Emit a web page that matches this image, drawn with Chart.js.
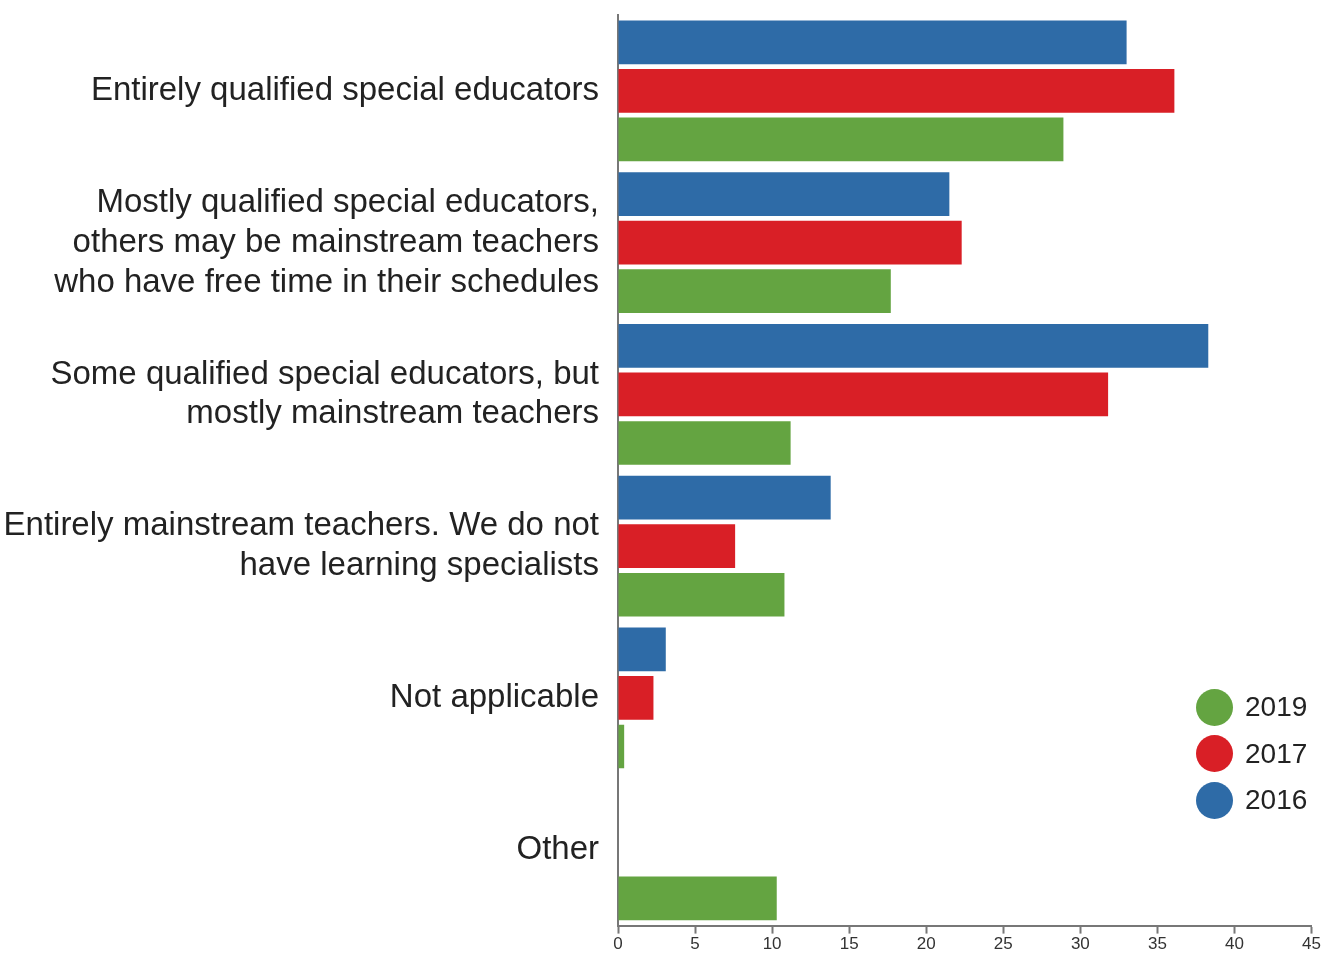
<!DOCTYPE html>
<html>
<head>
<meta charset="utf-8">
<script src="https://cdn.jsdelivr.net/npm/chart.js@4.4.1/dist/chart.umd.min.js"></script>
<style>
  html, body { margin: 0; padding: 0; background: #fff; }
  #wrap { position: relative; width: 1322px; height: 956px; }
  #legend { position: absolute; left: 1196px; top: 684px; font-family: "Liberation Sans", Arial, sans-serif; font-size: 28px; color: #222; }
  #legend div { display: flex; align-items: center; height: 46.5px; }
  #legend span.dot { display: inline-block; width: 37px; height: 37px; border-radius: 50%; margin-right: 12px; }
</style>
</head>
<body>
<div id="wrap">
  <canvas id="barChart"></canvas>
  <div id="legend"></div>
</div>
<script>
const categories = [
  ["Entirely qualified special educators"],
  ["Mostly qualified special educators,", "others may be mainstream teachers", "who have free time in their schedules"],
  ["Some qualified special educators, but", "mostly mainstream teachers"],
  ["Entirely mainstream teachers. We do not", "have learning specialists"],
  ["Not applicable"],
  ["Other"],
];
const values2016 = [33.0, 21.5, 38.3, 13.8, 3.1, null];
const values2017 = [36.1, 22.3, 31.8, 7.6, 2.3, null];
const values2019 = [28.9, 17.7, 11.2, 10.8, 0.4, 10.3];
const xTicks = [0, 5, 10, 15, 20, 25, 30, 35, 40, 45];

const blue = "#2e6ba7";
const red = "#d91f26";
const green = "#64a441";

const datasets = [
  { label: "2016", data: values2016, backgroundColor: blue },
  { label: "2017", data: values2017, backgroundColor: red },
  { label: "2019", data: values2019, backgroundColor: green },
];
datasets.forEach((d) => {
  d.barPercentage = 0.9;
  d.categoryPercentage = 0.96;
});

const ctx = document.getElementById("barChart");
new Chart(ctx, {
  type: "bar",
  data: { labels: categories, datasets: datasets },
  options: {
    indexAxis: "y",
    responsive: true,
    maintainAspectRatio: false,
    animation: false,
    layout: { padding: { top: 15, right: 8, left: 0, bottom: 0 } },
    scales: {
      x: {
        min: 0,
        max: 45,
        afterBuildTicks: (scale) => {
          scale.ticks = xTicks.map((v) => ({ value: v }));
        },
        grid: { drawOnChartArea: false, drawTicks: true, tickLength: 8, tickColor: "#777", tickWidth: 2 },
        border: { display: true, color: "#777", width: 2 },
        ticks: {
          color: "#333",
          padding: 1,
          font: { family: "Liberation Sans", size: 17 },
          maxRotation: 0,
        },
      },
      y: {
        afterFit: (scale) => {
          scale.width = 618;
          scale.paddingTop = 0;
          scale.paddingBottom = 0;
        },
        grid: { display: false },
        border: { display: true, color: "#777", width: 2 },
        ticks: {
          color: "#222",
          padding: 11,
          font: { family: "Liberation Sans", size: 33, lineHeight: 1.21 },
        },
      },
    },
    plugins: {
      legend: { display: false },
      tooltip: { enabled: false },
    },
  },
});

// legend in reverse order, like the original
const legend = document.getElementById("legend");
datasets.slice().reverse().forEach((d) => {
  const row = document.createElement("div");
  row.innerHTML = '<span class="dot" style="background:' + d.backgroundColor + '"></span>' + d.label;
  legend.appendChild(row);
});
</script>
</body>
</html>
